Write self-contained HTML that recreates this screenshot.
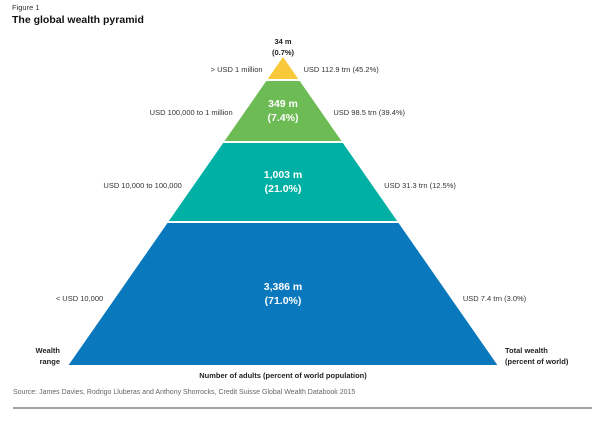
<!DOCTYPE html>
<html><head><meta charset="utf-8"><style>
body{margin:0;background:#fff;width:600px;height:432px;overflow:hidden}
svg text{font-family:"Liberation Sans",Arial,sans-serif}
</style></head><body>
<svg width="600" height="432" viewBox="0 0 600 432">
<text x="12" y="10" font-size="7.5" fill="#333">Figure 1</text>
<text x="12" y="23" font-size="10.5" font-weight="bold" fill="#111">The global wealth pyramid</text>
<g id="pyr"></g>
<text x="283" y="44" font-size="7.5" font-weight="bold" text-anchor="middle" fill="#222">34 m</text>
<text x="283" y="55" font-size="7.5" font-weight="bold" text-anchor="middle" fill="#222">(0.7%)</text>
<text x="60" y="353" font-size="7.5" font-weight="bold" text-anchor="end" fill="#222">Wealth</text>
<text x="60" y="364" font-size="7.5" font-weight="bold" text-anchor="end" fill="#222">range</text>
<text x="505" y="353" font-size="7.5" font-weight="bold" fill="#222">Total wealth</text>
<text x="505" y="364" font-size="7.5" font-weight="bold" fill="#222">(percent of world)</text>
<text x="283" y="378" font-size="7.5" font-weight="bold" text-anchor="middle" fill="#222">Number of adults (percent of world population)</text>
<text x="13" y="394" font-size="7" fill="#666">Source: James Davies, Rodrigo Lluberas and Anthony Shorrocks, Credit Suisse Global Wealth Databook 2015</text>
<line x1="13" y1="408" x2="592" y2="408" stroke="#444" stroke-width="1"/>
</svg>
<script>
const tierNames=["top","upper","middle","base"];
const tierCounts=["","349 m","1,003 m","3,386 m"];
const tierPercents=["","(7.4%)","(21.0%)","(71.0%)"];
const wealthRanges=["> USD 1 million","USD 100,000 to 1 million","USD 10,000 to 100,000","< USD 10,000"];
const totalWealth=["USD 112.9 trn (45.2%)","USD 98.5 trn (39.4%)","USD 31.3 trn (12.5%)","USD 7.4 trn (3.0%)"];
const tierTops=[57,81,143,223];
const tierBottoms=[79,141,221,365];
const colors=["#f9c93a","#6cbb54","#00b0a4","#0a78bd"];
const apexX=283,apexY=57,slope=0.696;
const ns="http://www.w3.org/2000/svg";
const g=document.getElementById("pyr");
function hw(y){return (y-apexY)*slope;}
function txt(x,y,s,opts){const t=document.createElementNS(ns,"text");t.setAttribute("x",x);t.setAttribute("y",y);t.setAttribute("font-size",opts.size||7.5);t.setAttribute("fill",opts.fill||"#333");if(opts.anchor)t.setAttribute("text-anchor",opts.anchor);if(opts.bold)t.setAttribute("font-weight","bold");t.textContent=s;g.appendChild(t);return t;}
for(let i=0;i<tierNames.length;i++){
  const t=tierTops[i],b=tierBottoms[i];
  const p=document.createElementNS(ns,"polygon");
  p.setAttribute("points",`${apexX-hw(t)},${t} ${apexX+hw(t)},${t} ${apexX+hw(b)},${b} ${apexX-hw(b)},${b}`);
  p.setAttribute("fill",colors[i]);
  
  
  g.appendChild(p);
  const mid=(t+b)/2;
  if(tierCounts[i]){
    const a=txt(apexX,mid-4,tierCounts[i],{size:10.5,fill:"#fff",anchor:"middle",bold:true});
    
    
    const c=txt(apexX,mid+10,tierPercents[i],{size:10.5,fill:"#fff",anchor:"middle",bold:true});
    
    
  }
  const ly=i===0?72:(i===1?115:(i===2?188:301));
  const l=txt(apexX-hw(ly)-10,ly,wealthRanges[i],{anchor:"end"});
  
  
  const r=txt(apexX+hw(ly)+10,ly,totalWealth[i],{});
  
  
}
</script>
</body></html>
